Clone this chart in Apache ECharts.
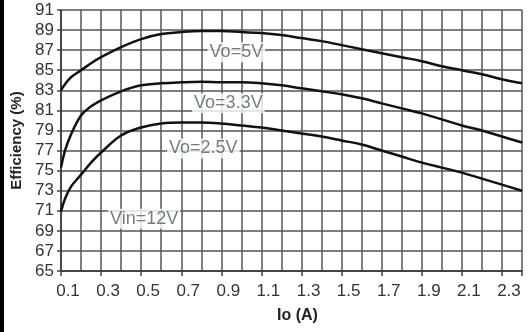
<!DOCTYPE html>
<html>
<head>
<meta charset="utf-8">
<script src="https://cdn.jsdelivr.net/npm/echarts@6/dist/echarts.min.js"></script>
<style>
html,body{margin:0;padding:0;background:#fff;}
#chart{width:531px;height:332px;}
</style>
</head>
<body>
<div id="chart"></div>
<script>
// Output current Io (A)
var ioValues = [0.1, 0.12, 0.15, 0.2, 0.25, 0.3, 0.4, 0.5, 0.6, 0.7, 0.8, 0.9, 1.0, 1.1, 1.2, 1.3, 1.4, 1.5, 1.6, 1.7, 1.8, 1.9, 2.0, 2.1, 2.2, 2.3, 2.4];
// Efficiency (%) per output voltage
var eff5V  = [83.0, 83.6, 84.3, 85.0, 85.7, 86.3, 87.3, 88.1, 88.6, 88.8, 88.9, 88.9, 88.8, 88.7, 88.5, 88.2, 87.9, 87.5, 87.1, 86.7, 86.3, 85.9, 85.4, 85.0, 84.6, 84.1, 83.7];
var eff33V = [75.3, 77.0, 78.6, 80.5, 81.4, 82.0, 82.9, 83.5, 83.7, 83.8, 83.85, 83.8, 83.8, 83.7, 83.5, 83.2, 82.9, 82.6, 82.2, 81.7, 81.2, 80.7, 80.1, 79.5, 79.0, 78.4, 77.8];
var eff25V = [70.9, 72.2, 73.4, 74.6, 75.8, 76.8, 78.5, 79.3, 79.7, 79.8, 79.8, 79.7, 79.5, 79.3, 79.0, 78.7, 78.4, 78.0, 77.6, 77.0, 76.4, 75.8, 75.3, 74.8, 74.2, 73.6, 73.0];
// Annotations (data coordinates)
var noteTexts = ['Vo=5V', 'Vo=3.3V', 'Vo=2.5V', 'Vin=12V'];
var noteIo    = [0.975, 0.935, 0.81, 0.515];
var noteEff   = [86.8, 81.7, 77.2, 70.2];
// Axis settings
var xMin = 0.1, xMax = 2.4;
var yMin = 65, yMax = 91;

var FONT = 'Liberation Sans, Arial, Helvetica, sans-serif';

function toData(ys) {
  return ioValues.map(function (x, i) { return [x - xMin, ys[i] - yMin]; });
}

var chart = echarts.init(document.getElementById('chart'), null, {renderer: 'canvas'});

var curveStyle = {color: '#111', width: 2.5};

chart.setOption({
  animation: false,
  backgroundColor: '#fff',
  grid: {left: 61, top: 10, right: 9, bottom: 61, containLabel: false},
  graphic: [{
    type: 'rect', left: 0, top: 0, shape: {width: 4, height: 332},
    style: {fill: '#000'}, silent: true
  }],
  xAxis: [{
    type: 'value', min: 0, max: xMax - xMin, interval: 0.1,
    axisLine: {show: true, onZero: false, lineStyle: {color: '#333', width: 1.5}},
    axisTick: {show: false},
    axisLabel: {show: false},
    splitLine: {show: true, lineStyle: {color: '#555', width: 1.5}}
  }, {
    type: 'value', min: 0, max: xMax - xMin, interval: 0.2, position: 'bottom',
    axisLine: {show: false, onZero: false},
    axisTick: {show: true, length: 5, lineStyle: {color: '#444', width: 1.5}},
    splitLine: {show: false},
    axisLabel: {
      show: true, margin: 12, color: '#333', fontSize: 17, fontFamily: FONT,
      padding: [0, 0, 0, 14],
      formatter: function (v) {
        if (v > 2.25) return '';
        return (v + xMin).toFixed(1);
      }
    },
    name: 'Io (A)', nameLocation: 'middle', nameGap: 37,
    nameTextStyle: {fontSize: 16, fontWeight: 'bold', color: '#222', fontFamily: FONT, padding: [0, 0, 0, 12]}
  }],
  yAxis: {
    type: 'value', min: 0, max: yMax - yMin, interval: 2,
    axisLine: {show: true, onZero: false, lineStyle: {color: '#333', width: 1.5}},
    axisTick: {show: true, length: 4, lineStyle: {color: '#444', width: 1.5}},
    splitLine: {show: true, lineStyle: {color: '#555', width: 1.5}},
    axisLabel: {
      margin: 7, color: '#333', fontSize: 17, fontFamily: FONT,
      padding: [5, 0, 0, 0],
      formatter: function (v) { return String(Math.round(v + yMin)); }
    },
    name: 'Efficiency (%)', nameLocation: 'middle', nameGap: 37,
    nameTextStyle: {fontSize: 15, fontWeight: 'bold', color: '#222', fontFamily: FONT}
  },
  series: [{
    type: 'line', name: 'Vo=5V', data: toData(eff5V), smooth: 0.4,
    showSymbol: false, lineStyle: curveStyle, z: 3
  }, {
    type: 'line', name: 'Vo=3.3V', data: toData(eff33V), smooth: 0.4,
    showSymbol: false, lineStyle: curveStyle, z: 3
  }, {
    type: 'line', name: 'Vo=2.5V', data: toData(eff25V), smooth: 0.4,
    showSymbol: false, lineStyle: curveStyle, z: 3
  }, {
    type: 'scatter', symbolSize: 0, z: 5,
    data: noteTexts.map(function (t, i) { return {value: [noteIo[i] - xMin, noteEff[i] - yMin], name: t}; }),
    label: {
      show: true, position: 'inside', formatter: '{b}',
      color: '#4b6352', fontSize: 18, fontFamily: FONT,
      backgroundColor: '#fff', padding: [1, 2]
    }
  }]
});
</script>
</body>
</html>
